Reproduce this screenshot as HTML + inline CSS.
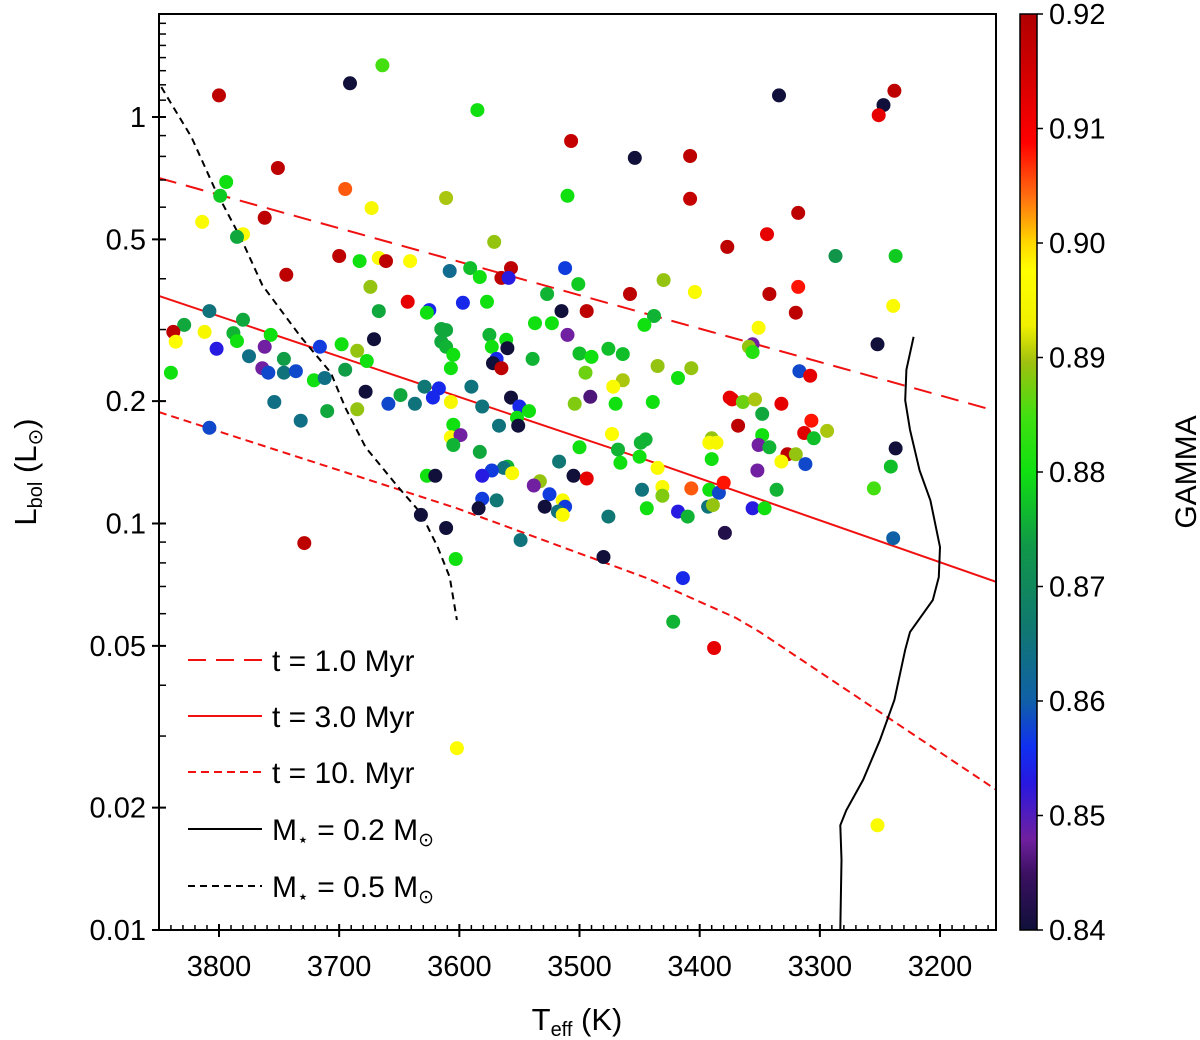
<!DOCTYPE html>
<html><head><meta charset="utf-8"><style>
html,body{margin:0;padding:0;background:#fff;}
svg{display:block;font-family:"Liberation Sans","DejaVu Sans",sans-serif;}
</style></head><body>
<svg id="chart" width="1200" height="1040" viewBox="0 0 1200 1040" xmlns="http://www.w3.org/2000/svg">
<defs>
<linearGradient id="cmap" x1="0" y1="1" x2="0" y2="0">
<stop offset="0" stop-color="#10103a"/><stop offset="0.06" stop-color="#3a1060"/><stop offset="0.1" stop-color="#7020a0"/>
<stop offset="0.16" stop-color="#2818e0"/><stop offset="0.2" stop-color="#1030f0"/><stop offset="0.25" stop-color="#1060a8"/>
<stop offset="0.33" stop-color="#107870"/><stop offset="0.42" stop-color="#109848"/><stop offset="0.5" stop-color="#10e010"/>
<stop offset="0.56" stop-color="#40e010"/><stop offset="0.62" stop-color="#a0c010"/><stop offset="0.66" stop-color="#f0f000"/>
<stop offset="0.72" stop-color="#ffff00"/><stop offset="0.75" stop-color="#ffd800"/><stop offset="0.8" stop-color="#ff7010"/>
<stop offset="0.86" stop-color="#ff0000"/><stop offset="0.94" stop-color="#d00000"/><stop offset="1" stop-color="#b00000"/>
</linearGradient>
<clipPath id="plotclip"><rect x="159" y="14" width="837" height="916"/></clipPath>
</defs>
<g id="lines" clip-path="url(#plotclip)"></g>
<g id="points" clip-path="url(#plotclip)"></g>
<rect x="159" y="14" width="837" height="916" fill="none" stroke="#000" stroke-width="2"/>
<g id="axes"></g>
<g id="legend"></g>
<rect x="1020" y="14" width="17" height="916" fill="url(#cmap)" stroke="#000" stroke-width="1.5"/>
<g id="cbticks"></g>
<text transform="translate(1196,472) rotate(-90)" text-anchor="middle" font-size="30">GAMMA</text>
<text transform="translate(36,472) rotate(-90)" text-anchor="middle" font-size="31">L<tspan font-size="20" dy="6">bol</tspan><tspan dy="-6"> (L</tspan><tspan font-size="20" dy="6">⊙</tspan><tspan dy="-6">)</tspan></text>
<text x="577" y="1030" text-anchor="middle" font-size="31">T<tspan font-size="20" dy="6">eff</tspan><tspan dy="-6"> (K)</tspan></text>
</svg>
<script>
const teff=[3800,3691,3664,3585,3507,3751,3794,3799,3695,3673,3611,3510,3814,3762,3780,3785,3571,3700,3683,3667,3661,3641,3608,3591,3583,3557,3565,3559,3512,3744,3674,3667,3643,3625,3627,3808,3829,3838,3836,3812,3780,3788,3785,3757,3802,3762,3775,3746,3764,3759,3746,3736,3840,3721,3712,3695,3716,3698,3685,3677,3671,3678,3685,3710,3754,3732,3659,3649,3637,3629,3622,3617,3615,3611,3615,3611,3605,3607,3607,3605,3607,3808,3627,3620,3632,3611,3603,3729,3597,3577,3527,3501,3515,3494,3458,3404,3438,3446,3537,3523,3510,3575,3561,3573,3560,3569,3572,3565,3539,3500,3490,3476,3464,3435,3407,3418,3495,3464,3472,3491,3504,3470,3439,3375,3590,3581,3557,3550,3542,3552,3551,3567,3599,3605,3583,3500,3473,3468,3466,3450,3445,3449,3390,3392,3386,3390,3517,3435,3560,3563,3556,3573,3581,3505,3494,3533,3538,3448,3431,3431,3407,3392,3384,3380,3525,3514,3512,3518,3514,3529,3581,3569,3584,3476,3444,3418,3410,3393,3389,3379,3549,3480,3414,3342,3318,3320,3351,3356,3359,3356,3239,3252,3317,3308,3373,3364,3354,3332,3348,3368,3307,3294,3313,3305,3348,3351,3342,3327,3320,3332,3312,3352,3237,3241,3255,3336,3356,3346,3239,3334,3238,3247,3251,3454,3408,3408,3318,3344,3377,3287,3237,3430,3388,3422,3602,3252];
const lbol=[1.13,1.21,1.34,1.04,0.873,0.749,0.692,0.640,0.665,0.597,0.632,0.640,0.552,0.565,0.515,0.507,0.493,0.455,0.442,0.450,0.442,0.442,0.418,0.425,0.404,0.425,0.402,0.402,0.425,0.409,0.382,0.333,0.351,0.335,0.330,0.333,0.308,0.296,0.280,0.296,0.317,0.294,0.281,0.291,0.269,0.272,0.258,0.254,0.241,0.235,0.235,0.237,0.235,0.225,0.228,0.239,0.272,0.276,0.266,0.251,0.284,0.211,0.191,0.189,0.199,0.179,0.197,0.207,0.197,0.217,0.204,0.215,0.301,0.299,0.280,0.272,0.260,0.241,0.199,0.175,0.163,0.172,0.131,0.131,0.105,0.0975,0.0818,0.0895,0.349,0.351,0.367,0.388,0.333,0.333,0.367,0.371,0.324,0.308,0.311,0.311,0.291,0.291,0.283,0.272,0.270,0.254,0.248,0.241,0.254,0.262,0.257,0.269,0.261,0.244,0.241,0.228,0.235,0.225,0.217,0.205,0.197,0.197,0.199,0.204,0.217,0.194,0.204,0.194,0.189,0.182,0.174,0.174,0.165,0.156,0.150,0.154,0.166,0.152,0.141,0.146,0.161,0.158,0.162,0.158,0.158,0.144,0.142,0.137,0.138,0.137,0.133,0.135,0.131,0.131,0.129,0.127,0.124,0.121,0.123,0.117,0.122,0.121,0.119,0.126,0.118,0.114,0.110,0.107,0.105,0.110,0.115,0.114,0.109,0.104,0.109,0.107,0.104,0.110,0.111,0.0948,0.091,0.0827,0.0734,0.367,0.382,0.330,0.303,0.276,0.272,0.264,0.343,0.276,0.237,0.231,0.202,0.199,0.202,0.197,0.186,0.174,0.179,0.169,0.167,0.162,0.165,0.156,0.154,0.148,0.148,0.142,0.140,0.135,0.153,0.138,0.122,0.121,0.109,0.109,0.092,1.13,1.16,1.07,1.01,0.793,0.802,0.629,0.581,0.515,0.479,0.455,0.455,0.397,0.0494,0.0573,0.0280,0.0181];
const gamma=[.918,.84,.885,.88,.917,.918,.88,.878,.905,.895,.89,.88,.896,.918,.896,.875,.889,.918,.88,.896,.918,.897,.863,.877,.88,.918,.918,.853,.857,.918,.889,.875,.912,.855,.88,.865,.875,.918,.897,.895,.875,.876,.88,.88,.853,.848,.864,.874,.848,.858,.865,.858,.88,.88,.864,.874,.857,.88,.889,.88,.84,.84,.889,.875,.864,.864,.858,.875,.865,.866,.855,.855,.875,.875,.875,.876,.88,.88,.895,.88,.897,.858,.88,.84,.84,.84,.88,.918,.855,.88,.876,.878,.84,.918,.918,.896,.876,.88,.88,.88,.848,.876,.88,.88,.84,.855,.84,.918,.876,.877,.88,.877,.877,.889,.889,.88,.887,.89,.896,.846,.888,.88,.88,.912,.865,.865,.84,.855,.88,.88,.84,.865,.848,.876,.875,.88,.897,.876,.88,.88,.876,.876,.889,.896,.895,.88,.866,.896,.876,.865,.896,.857,.853,.84,.912,.889,.848,.865,.896,.888,.905,.88,.858,.908,.857,.896,.857,.865,.896,.84,.857,.866,.84,.866,.88,.853,.876,.865,.889,.842,.865,.84,.855,.918,.908,.918,.896,.848,.889,.882,.896,.84,.858,.912,.912,.887,.89,.912,.875,.918,.908,.89,.913,.877,.88,.848,.876,.918,.889,.896,.858,.848,.84,.877,.885,.876,.853,.88,.86,.84,.918,.84,.912,.84,.918,.917,.918,.912,.918,.873,.878,.889,.912,.876,.897,.896];
const iso1T=[3850,3616,3397,3153], iso1L=[0.708,0.454,0.300,0.189];
const iso3T=[3850,3428,3153], iso3L=[0.363,0.138,0.0718];
const iso10T=[3850,3602,3444,3370,3350,3153], iso10L=[0.188,0.109,0.0734,0.0586,0.0541,0.0221];
const m05T=[3848,3840,3823,3803,3781,3764,3732,3707,3695,3678,3651,3632,3618,3608,3602];
const m05L=[1.185,1.082,0.893,0.661,0.498,0.386,0.288,0.235,0.193,0.154,0.123,0.106,0.0875,0.0738,0.0579];
const m02T=[3222,3228,3229,3225,3217,3208,3200,3201,3206,3225,3229,3238,3250,3264,3278,3283,3282,3283];
const m02L=[0.288,0.239,0.201,0.170,0.135,0.114,0.0875,0.0738,0.0648,0.0541,0.0489,0.0368,0.0293,0.0234,0.0197,0.0181,0.0149,0.01];
const xTicks=[3800,3700,3600,3500,3400,3300,3200];
const yTicks=[1,0.5,0.2,0.1,0.05,0.02,0.01];
const yTickLabels=["1","0.5","0.2","0.1","0.05","0.02","0.01"];
const cbTicks=[0.84,0.85,0.86,0.87,0.88,0.89,0.90,0.91,0.92];
const cbLabels=["0.84","0.85","0.86","0.87","0.88","0.89","0.90","0.91","0.92"];

const NS="http://www.w3.org/2000/svg";
const xs=T=>219+(3800-T)*1.2017;
const ys=L=>117-Math.log10(L)*406.5;
const gmin=0.84,gmax=0.92;
const cstops=[[0,[16,16,58]],[0.06,[58,16,96]],[0.1,[112,32,160]],[0.16,[40,24,224]],[0.2,[16,48,240]],[0.25,[16,96,168]],[0.33,[16,120,112]],[0.42,[16,152,72]],[0.5,[16,224,16]],[0.56,[64,224,16]],[0.62,[160,192,16]],[0.66,[240,240,0]],[0.72,[255,255,0]],[0.75,[255,216,0]],[0.8,[255,112,16]],[0.86,[255,0,0]],[0.94,[208,0,0]],[1,[176,0,0]]];
function cmap(g){let t=Math.max(0,Math.min(1,(g-gmin)/(gmax-gmin)));
 for(let i=1;i<cstops.length;i++){if(t<=cstops[i][0]){const a=cstops[i-1],b=cstops[i];const f=(t-a[0])/(b[0]-a[0]);
 const c=a[1].map((v,k)=>Math.round(v+(b[1][k]-v)*f));return `rgb(${c[0]},${c[1]},${c[2]})`;}}return "rgb(176,0,0)";}
function mk(tag,attrs,parent){const e=document.createElementNS(NS,tag);for(const k in attrs)e.setAttribute(k,attrs[k]);parent.appendChild(e);return e;}

const lines=document.getElementById('lines');
function path(T,L,style,name){const d=T.map((t,i)=>(i?'L':'M')+xs(t).toFixed(1)+','+ys(L[i]).toFixed(1)).join(' ');
 const p=mk('path',Object.assign({d:d,fill:'none'},style),lines);
 
 }
path(iso1T,iso1L,{stroke:'#f01010','stroke-width':2,'stroke-dasharray':'18,10'},'isochrone-1myr');
path(iso3T,iso3L,{stroke:'#f01010','stroke-width':2},'isochrone-3myr');
path(iso10T,iso10L,{stroke:'#f01010','stroke-width':2,'stroke-dasharray':'8,5'},'isochrone-10myr');
path(m02T,m02L,{stroke:'#000','stroke-width':2},'track-0.2-msun');
path(m05T,m05L,{stroke:'#000','stroke-width':2,'stroke-dasharray':'7,5'},'track-0.5-msun');

const pts=document.getElementById('points');
for(let i=0;i<teff.length;i++){
 const c=mk('circle',{cx:xs(teff[i]).toFixed(1),cy:ys(lbol[i]).toFixed(1),r:7,fill:cmap(gamma[i])},pts);
 
 
}

const axes=document.getElementById('axes');
xTicks.forEach(t=>{const x=xs(t);
 const l=mk('line',{x1:x,x2:x,y1:937,y2:924,stroke:'#000','stroke-width':2},axes);
 
 
 const tx=mk('text',{x:x,y:976,'text-anchor':'middle','font-size':29},axes);tx.textContent=t;
 
 
});
for(let t=3850;t>=3150;t-=10){const x=xs(t);if(x<160||x>995||t%100===0)continue;
 const l=mk('line',{x1:x,x2:x,y1:930,y2:925,stroke:'#000','stroke-width':1.5},axes);
 
 }
yTicks.forEach((v,i)=>{const y=ys(v);
 const l=mk('line',{x1:152,x2:166,y1:y,y2:y,stroke:'#000','stroke-width':2},axes);
 
 
 const tx=mk('text',{x:146,y:y+10,'text-anchor':'end','font-size':29},axes);tx.textContent=yTickLabels[i];
 
 
});
const minorY=[];
[0.01,0.1].forEach(dec=>{for(let m=2;m<=9;m++)minorY.push(dec*m);});
for(let m=11;m<=18;m++)minorY.push(m/10);
minorY.forEach(v=>{const y=ys(v);if(y<16||y>928)return;
 const l=mk('line',{x1:159,x2:166,y1:y,y2:y,stroke:'#000','stroke-width':1.5},axes);
 
 });

const cb=document.getElementById('cbticks');
cbTicks.forEach((g,i)=>{const y=930-(g-gmin)/(gmax-gmin)*916;
 const l=mk('line',{x1:1037,x2:1043,y1:y,y2:y,stroke:'#000','stroke-width':1.5},cb);
 
 
 const tx=mk('text',{x:1049,y:y+10,'font-size':29},cb);tx.textContent=cbLabels[i];
 
 
});

const lg=document.getElementById('legend');
const legStyles=[{stroke:'#f01010','stroke-dasharray':'18,10'},{stroke:'#f01010'},{stroke:'#f01010','stroke-dasharray':'8,5'},{stroke:'#000'},{stroke:'#000','stroke-dasharray':'7,5'}];
const legLabels=['t = 1.0 Myr','t = 3.0 Myr','t = 10. Myr',null,null];
const legY=[660,716,772,829,886];
legStyles.forEach((s,i)=>{const y=legY[i];
 const l=mk('line',Object.assign({x1:188,x2:262,y1:y,y2:y,'stroke-width':2},s),lg);
 
 
 const tx=mk('text',{x:272,y:y+11,'font-size':30},lg);
 
 
 if(legLabels[i])tx.textContent=legLabels[i];
 else tx.innerHTML='M<tspan font-size="19" dy="6">⋆</tspan><tspan dy="-6"> = '+(i===3?'0.2':'0.5')+' M</tspan><tspan font-size="19" dy="6">⊙</tspan>';
});
</script>
</body></html>
